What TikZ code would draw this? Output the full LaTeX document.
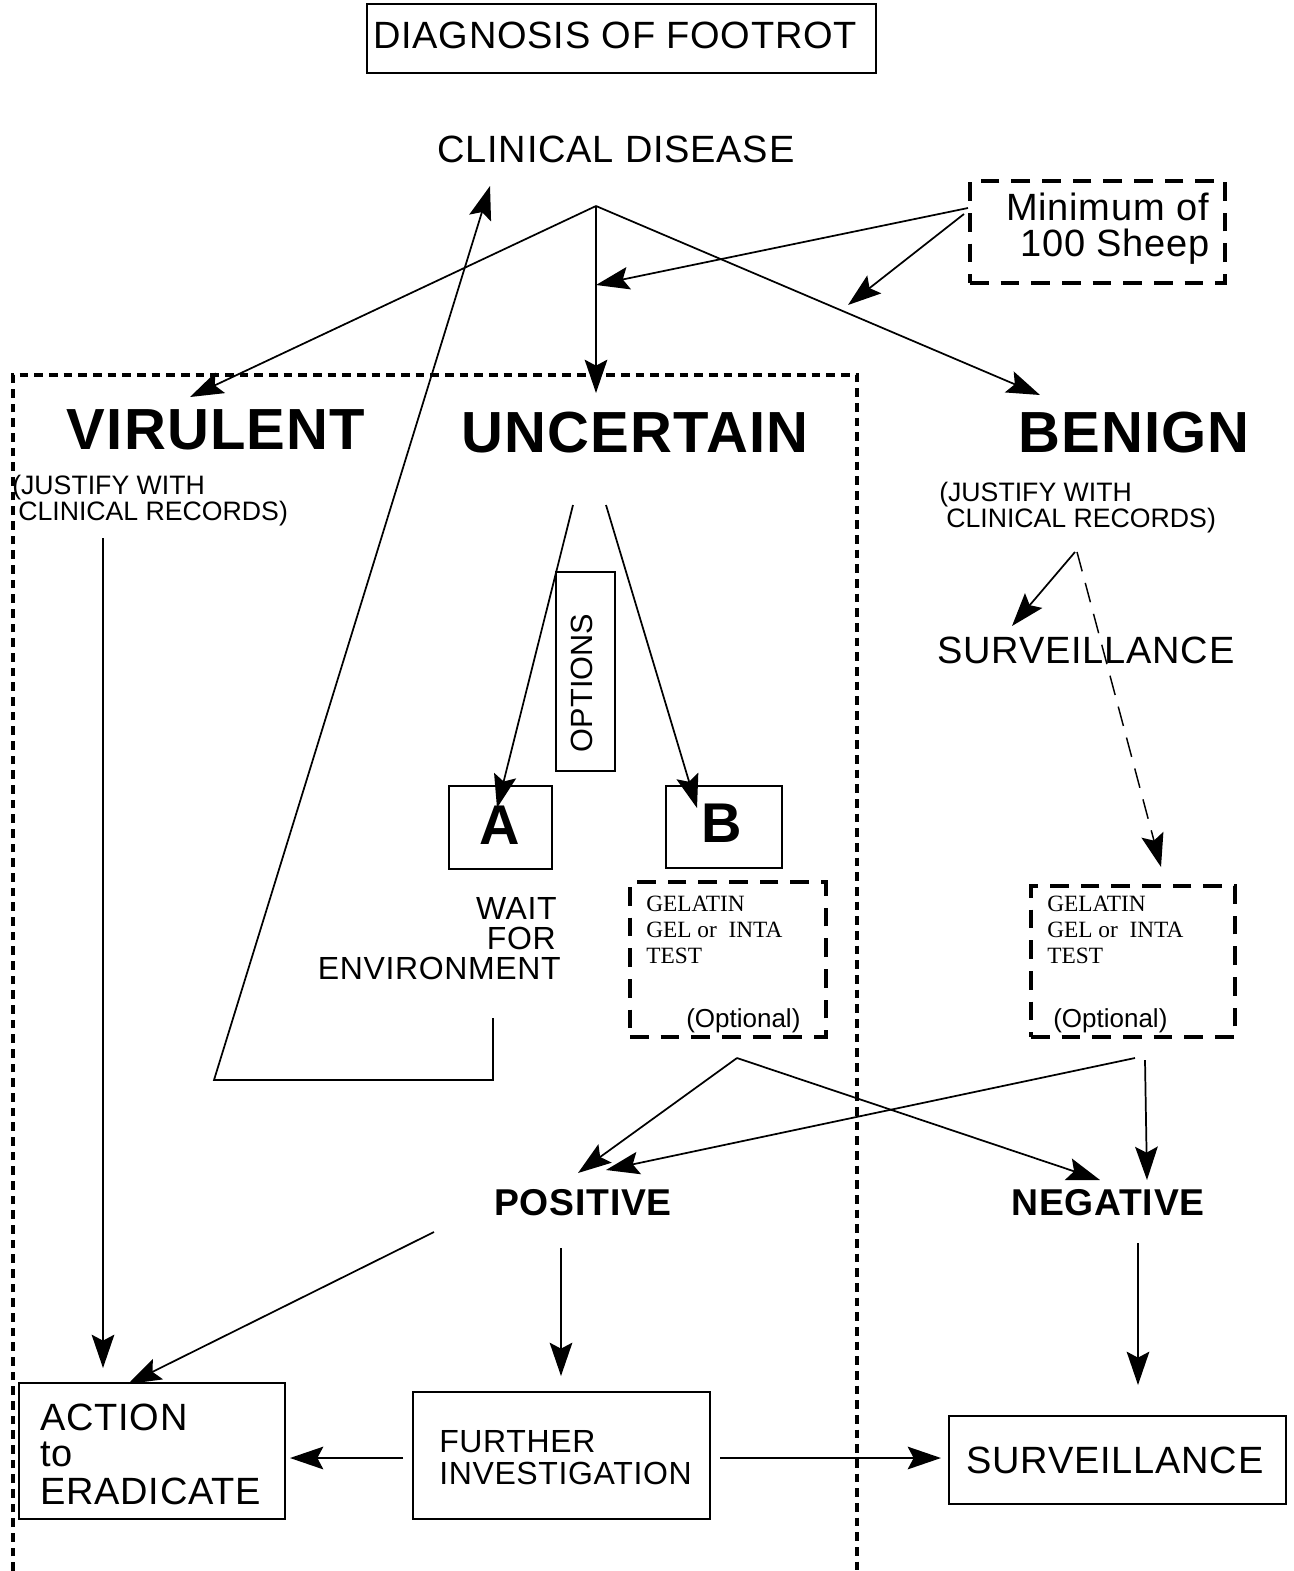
\documentclass[tikz,border=0pt]{standalone}
\usepackage{fontspec}
\setmainfont{Liberation Sans}
\newfontfamily\timesf{Liberation Serif}
\usetikzlibrary{arrows.meta}
\begin{document}
\begin{tikzpicture}[x=0.75pt,y=-0.75pt,
  >={Stealth[length=25pt,width=17pt,inset=4.5pt]},
  conn/.style={->,line width=1.3pt},
  box/.style={draw,line width=1.6pt,inner sep=0pt},
  dbox/.style={draw,line width=2.4pt,dash pattern=on 14pt off 9pt,inner sep=0pt},
  txt/.style={inner sep=0pt,font=\fontsize{28.5}{34}\selectfont\addfontfeatures{LetterSpace=2}},
  big/.style={inner sep=0pt,font=\fontsize{43.5}{50}\selectfont\bfseries\addfontfeatures{LetterSpace=2}},
  mid/.style={inner sep=0pt,font=\fontsize{28}{34}\selectfont\bfseries\addfontfeatures{LetterSpace=2}},
  small/.style={inner sep=0pt,font=\fontsize{20}{24}\selectfont},
  medium/.style={inner sep=0pt,font=\fontsize{24}{28}\selectfont\addfontfeatures{LetterSpace=2}},
  gel/.style={inner sep=0pt,font=\fontsize{17.5}{21}\selectfont\timesf},
  opt/.style={inner sep=0pt,font=\fontsize{19.5}{23}\selectfont}]
\useasboundingbox (0,0) rectangle (1293,1571);

% title
\node[box,minimum width=381.75pt,minimum height=51.75pt] (title) at (621.5,38.5) {};
\node[txt] (titletxt) at (615,35) {DIAGNOSIS OF FOOTROT};

\node[txt] (clin) at (616,149) {CLINICAL DISEASE};

% minimum box
\node[dbox,minimum width=191.25pt,minimum height=76.5pt] (minbox) at (1097.5,232) {};
\node[txt,anchor=base west] (min1) at (1006,220) {Minimum of};
\node[txt,anchor=base west] (min2) at (1020,256) {100 Sheep};

% big dashed region
\draw[line width=2.3pt,dash pattern=on 6.5pt off 4.5pt] (13,1571) -- (13,375) -- (857,375) -- (857,1571);

% headings
\node[big] (vir) at (216,430) {VIRULENT};
\node[big] (unc) at (635,433) {UNCERTAIN};
\node[big] (ben) at (1134,433) {BENIGN};

\node[small,anchor=base west] (jl1) at (12,494) {(JUSTIFY WITH};
\node[small,anchor=base west] (jl2) at (18,520) {CLINICAL RECORDS)};
\node[small,anchor=base west] (jr1) at (939,501) {(JUSTIFY WITH};
\node[small,anchor=base west] (jr2) at (946,527) {CLINICAL RECORDS)};

\node[txt] (surv1) at (1086,650) {SURVEILLANCE};

% options
\node[box,minimum width=44.25pt,minimum height=149.25pt] (optbox) at (585.5,671.5) {};
\node[medium,rotate=90,font=\fontsize{23}{26}\selectfont] (opttxt) at (582,683) {OPTIONS};

\node[box,minimum width=77.25pt,minimum height=62.25pt] (abox) at (500.5,827.5) {};
\node[big,font=\fontsize{42}{48}\selectfont\bfseries] (atxt) at (500,825) {A};
\node[box,minimum width=87pt,minimum height=61.5pt] (bbox) at (724,827) {};
\node[big,font=\fontsize{42}{48}\selectfont\bfseries] (btxt) at (722,823) {B};

\node[medium,anchor=base east] (w1) at (557,919) {WAIT};
\node[medium,anchor=base east] (w2) at (556,949) {FOR};
\node[medium,anchor=base east] (w3) at (561,979) {ENVIRONMENT};

% gelatin boxes
\node[dbox,minimum width=147pt,minimum height=116.25pt] (gl) at (728,959.5) {};
\node[gel,anchor=base west] (gl1) at (646,911) {GELATIN};
\node[gel,anchor=base west] (gl2) at (646,937) {GEL or\ \ INTA};
\node[gel,anchor=base west] (gl3) at (646,963) {TEST};
\node[opt,anchor=base west] (gl4) at (686,1027) {(Optional)};

\node[dbox,minimum width=153pt,minimum height=113.25pt] (gr) at (1133,961.5) {};
\node[gel,anchor=base west] (gr1) at (1047,911) {GELATIN};
\node[gel,anchor=base west] (gr2) at (1047,937) {GEL or\ \ INTA};
\node[gel,anchor=base west] (gr3) at (1047,963) {TEST};
\node[opt,anchor=base west] (gr4) at (1053,1027) {(Optional)};

\node[mid] (pos) at (583,1203) {POSITIVE};
\node[mid] (neg) at (1108,1203) {NEGATIVE};

% bottom boxes
\node[box,minimum width=199.5pt,minimum height=102pt] (act) at (152,1451) {};
\node[txt,anchor=base west] (act1) at (40,1430) {ACTION};
\node[txt,anchor=base west] (act2) at (40,1466) {to};
\node[txt,anchor=base west] (act3) at (40,1504) {ERADICATE};

\node[box,minimum width=222.75pt,minimum height=95.25pt] (fur) at (561.5,1455.5) {};
\node[medium,anchor=base west] (fur1) at (439,1452) {FURTHER};
\node[medium,anchor=base west] (fur2) at (439,1484) {INVESTIGATION};

\node[box,minimum width=252.75pt,minimum height=66pt] (sur2) at (1117.5,1460) {};
\node[txt] (sur2t) at (1115,1460) {SURVEILLANCE};

% coordinates
\coordinate (cd) at (596,206);
\coordinate (vtip) at (190,397);
\coordinate (utip) at (596,393);
\coordinate (btip) at (1040,395);
\coordinate (m1) at (968,208);
\coordinate (m1t) at (596,285);
\coordinate (m2) at (964,214);
\coordinate (m2t) at (848,305);
\coordinate (lp1) at (493,1018);
\coordinate (lp2) at (493,1080);
\coordinate (lp3) at (214,1080);
\coordinate (lpt) at (490,186);
\coordinate (vs) at (103,538);
\coordinate (vt) at (103,1368);
\coordinate (ua) at (573,505);
\coordinate (uat) at (497,808);
\coordinate (ub) at (606,505);
\coordinate (ubt) at (697,808);
\coordinate (bs1) at (1075,552);
\coordinate (bs1t) at (1012,626);
\coordinate (bs2) at (1077,552);
\coordinate (bs2t) at (1161,867);
\coordinate (gls) at (737,1058);
\coordinate (glp) at (578,1173);
\coordinate (gln) at (1100,1180);
\coordinate (grs) at (1135,1058);
\coordinate (grp) at (606,1170);
\coordinate (grs2) at (1145,1060);
\coordinate (grn) at (1147,1180);
\coordinate (ps1) at (434,1232);
\coordinate (pt1) at (128,1384);
\coordinate (ps2) at (561,1248);
\coordinate (pt2) at (561,1376);
\coordinate (ns) at (1138,1243);
\coordinate (nt) at (1138,1385);
\coordinate (fl) at (403,1458);
\coordinate (flt) at (290,1458);
\coordinate (fr) at (720,1458);
\coordinate (frt) at (941,1458);

% connectors
\draw[conn] (cd) -- (vtip);
\draw[conn] (cd) -- (utip);
\draw[conn] (cd) -- (btip);
\draw[conn] (m1) -- (m1t);
\draw[conn] (m2) -- (m2t);
\draw[conn] (lp1) -- (lp2) -- (lp3) -- (lpt);
\draw[conn] (vs) -- (vt);
\draw[conn] (ua) -- (uat);
\draw[conn] (ub) -- (ubt);
\draw[conn] (bs1) -- (bs1t);
\draw[conn,line width=1.1pt,dash pattern=on 15pt off 9pt] (bs2) -- (bs2t);
\draw[conn] (gls) -- (glp);
\draw[conn] (gls) -- (gln);
\draw[conn] (grs) -- (grp);
\draw[conn] (grs2) -- (grn);
\draw[conn] (ps1) -- (pt1);
\draw[conn] (ps2) -- (pt2);
\draw[conn] (ns) -- (nt);
\draw[conn] (fl) -- (flt);
\draw[conn] (fr) -- (frt);
\end{tikzpicture}
\end{document}
